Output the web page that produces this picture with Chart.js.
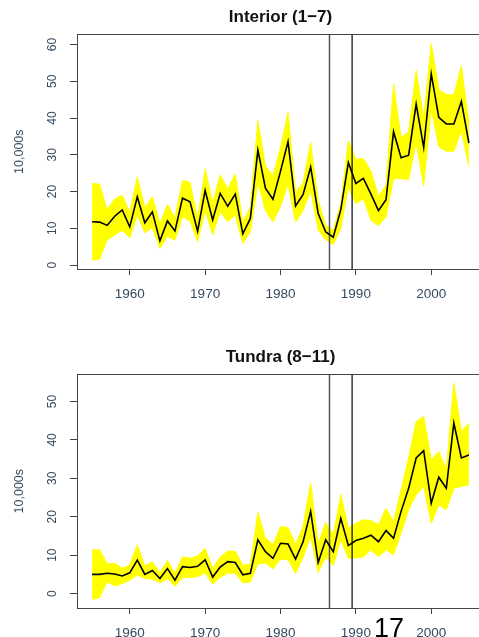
<!DOCTYPE html>
<html>
<head>
<meta charset="utf-8">
<script src="https://cdn.jsdelivr.net/npm/chart.js@4.4.1/dist/chart.umd.min.js"></script>
<style>
  html, body { margin: 0; padding: 0; background: #fff; overflow: hidden; width: 479px; height: 637px; }
  .panel { position: absolute; left: 0; }
  #pageNo { position: absolute; left: 374px; top: 615px; font: 27px/27px "Liberation Sans", Arial, sans-serif; color: #000; }
</style>
</head>
<body>
<div class="panel" style="top:0"><canvas id="interior" width="490" height="320"></canvas></div>
<div class="panel" style="top:320px"><canvas id="tundra" width="490" height="340"></canvas></div>
<div id="pageNo">17</div>
<script>
const years = [1955, 1956, 1957, 1958, 1959, 1960, 1961, 1962, 1963, 1964,
  1965, 1966, 1967, 1968, 1969, 1970, 1971, 1972, 1973, 1974,
  1975, 1976, 1977, 1978, 1979, 1980, 1981, 1982, 1983, 1984,
  1985, 1986, 1987, 1988, 1989, 1990, 1991, 1992, 1993, 1994,
  1995, 1996, 1997, 1998, 1999, 2000, 2001, 2002, 2003, 2004, 2005];

// Interior (1-7)
const interiorMean = [11.8, 11.7, 10.8, 13.3, 15.0, 10.4, 18.6, 11.5, 14.5, 6.6,
  12.0, 9.3, 18.2, 17.2, 9.2, 20.3, 12.3, 19.5, 16.0, 19.3,
  8.5, 12.7, 31.3, 20.9, 17.9, 25.5, 33.6, 16.1, 19.2, 26.7,
  14.0, 9.0, 7.6, 15.1, 27.9, 22.2, 23.6, 19.3, 14.8, 17.8,
  36.3, 29.2, 29.9, 43.8, 32.0, 52.0, 40.2, 38.4, 38.4, 44.5, 33.2];
const interiorUpper = [22.2, 22.0, 15.0, 18.0, 19.0, 14.3, 24.0, 15.6, 18.6, 11.2,
  16.5, 12.9, 23.0, 22.5, 12.7, 26.2, 17.0, 24.5, 20.8, 24.7,
  11.7, 15.8, 39.3, 27.0, 24.3, 32.0, 41.6, 19.8, 22.5, 33.4,
  17.6, 10.8, 9.5, 16.7, 33.8, 28.8, 29.0, 25.6, 18.8, 21.8,
  49.2, 34.7, 36.3, 53.0, 40.0, 60.4, 47.8, 46.4, 46.3, 54.2, 38.5];
const interiorLower = [1.3, 1.6, 6.8, 8.2, 9.5, 7.4, 13.6, 8.8, 10.2, 4.5,
  7.8, 6.8, 13.2, 12.0, 6.4, 14.8, 8.3, 14.5, 11.8, 13.6,
  5.9, 9.0, 22.5, 14.9, 11.7, 16.0, 22.1, 11.7, 14.9, 20.3,
  9.5, 6.9, 5.6, 9.9, 21.2, 16.7, 18.0, 12.2, 10.8, 13.1,
  23.6, 23.5, 23.3, 33.3, 21.5, 42.5, 32.2, 31.0, 31.0, 36.5, 26.9];

// Tundra (8-11)
const tundraMean = [5.0, 5.0, 5.3, 5.1, 4.6, 5.4, 8.7, 5.0, 6.0, 3.9,
  6.5, 3.5, 7.0, 6.8, 7.1, 8.8, 4.3, 6.9, 8.3, 8.1,
  4.9, 5.3, 14.0, 10.9, 9.2, 13.1, 12.9, 9.0, 13.5, 21.4,
  8.1, 14.0, 10.9, 19.6, 12.5, 13.8, 14.4, 15.2, 13.5, 16.4,
  14.4, 21.4, 27.4, 35.3, 37.2, 23.5, 30.3, 27.4, 44.4, 35.3, 36.1];
const tundraUpper = [11.4, 11.4, 7.7, 7.9, 6.6, 7.4, 12.7, 7.2, 8.3, 5.4,
  8.6, 5.3, 9.6, 9.2, 9.8, 11.8, 6.6, 9.5, 11.1, 11.0,
  7.4, 7.6, 21.1, 14.5, 12.8, 17.4, 17.2, 12.8, 17.5, 28.8,
  13.0, 18.5, 15.3, 25.8, 17.0, 18.3, 19.2, 19.0, 17.9, 22.2,
  18.8, 27.0, 35.3, 44.8, 46.1, 34.8, 37.0, 32.2, 54.8, 42.2, 44.4];
const tundraLower = [-1.5, -1.1, 3.1, 2.0, 2.6, 3.5, 4.8, 3.9, 3.8, 2.8,
  3.9, 1.9, 4.2, 4.2, 4.4, 5.4, 2.4, 4.2, 5.3, 5.3,
  2.8, 3.0, 7.8, 7.9, 6.4, 9.0, 8.8, 5.2, 9.5, 14.8,
  5.5, 9.5, 7.3, 14.0, 9.2, 9.3, 9.6, 11.4, 9.6, 11.4,
  10.1, 15.7, 21.8, 25.7, 27.9, 18.3, 23.1, 21.8, 27.4, 27.9, 28.3];

// vertical reference lines
const marks = [1986.5, 1989.5];
const xTicks = [1960, 1970, 1980, 1990, 2000];

const FONT = '"Liberation Sans", Arial, Helvetica, sans-serif';
const AXIS_COLOR = '#444';
const LABEL_COLOR = '#34495e';
const BAND = '#ffff00';

function toPoints(vals) {
  return years.map((yr, i) => ({ x: yr, y: vals[i] }));
}

function makeChart(id, title, mean, upper, lower, titlePadTop, xAxisHeight) {
  const lo = Math.min(...lower), hi = Math.max(...upper);
  const yMin = lo - 0.04 * (hi - lo), yMax = hi + 0.04 * (hi - lo);
  const span = years[years.length - 1] - years[0];
  const xMin = years[0] - 0.04 * span;
  const xMax = years[years.length - 1] + 0.04 * span;

  return new Chart(document.getElementById(id), {
    type: 'line',
    data: {
      datasets: [
        { data: toPoints(mean), borderColor: '#000', borderWidth: 1.6, pointRadius: 0, tension: 0, fill: false },
        { data: [{ x: marks[0], y: yMin }, { x: marks[0], y: yMax }], borderColor: '#555', borderWidth: 1.5, pointRadius: 0, fill: false },
        { data: [{ x: marks[1], y: yMin }, { x: marks[1], y: yMax }], borderColor: '#000', borderWidth: 1.2, pointRadius: 0, fill: false },
        { data: toPoints(upper), borderColor: BAND, backgroundColor: BAND, borderWidth: 1, pointRadius: 0, tension: 0, fill: '+1' },
        { data: toPoints(lower), borderColor: BAND, borderWidth: 1, pointRadius: 0, tension: 0, fill: false }
      ]
    },
    options: {
      responsive: false,
      animation: false,
      layout: { padding: { left: 0, right: 6, top: 0, bottom: 0 } },
      plugins: {
        legend: { display: false },
        tooltip: { enabled: false },
        title: {
          display: true,
          text: title,
          fullSize: false,
          color: '#111',
          font: { family: FONT, size: 17, weight: 'bold' },
          padding: { top: titlePadTop, bottom: 7 }
        }
      },
      scales: {
        x: {
          type: 'linear',
          min: xMin,
          max: xMax,
          afterBuildTicks: (s) => { s.ticks = xTicks.map(v => ({ value: v })); },
          afterFit: (s) => { s.height = xAxisHeight; },
          grid: { display: true, drawOnChartArea: false, drawTicks: true, tickLength: 6, color: AXIS_COLOR },
          border: { display: true, color: AXIS_COLOR, width: 1 },
          ticks: {
            color: LABEL_COLOR,
            font: { family: FONT, size: 13.5 },
            padding: 11,
            maxRotation: 0,
            callback: (v) => String(v)
          }
        },
        xTop: {
          type: 'linear',
          position: 'top',
          afterFit: (s) => { s.height = 0; },
          grid: { display: false },
          border: { display: true, color: AXIS_COLOR, width: 1 },
          ticks: { display: false }
        },
        y: {
          type: 'linear',
          min: yMin,
          max: yMax,
          afterFit: (s) => { s.width = 77; },
          grid: { display: true, drawOnChartArea: false, drawTicks: true, tickLength: 7, color: AXIS_COLOR },
          border: { display: true, color: AXIS_COLOR, width: 1 },
          ticks: {
            stepSize: 10,
            includeBounds: false,
            minRotation: 90,
            maxRotation: 90,
            crossAlign: 'center',
            padding: 11,
            color: LABEL_COLOR,
            font: { family: FONT, size: 12 },
            callback: (v) => String(v)
          },
          title: {
            display: true,
            text: '10,000s',
            color: LABEL_COLOR,
            font: { family: FONT, size: 12.5 },
            padding: { top: 12.5, bottom: 0 }
          }
        }
      }
    }
  });
}

makeChart('interior', 'Interior (1\u22127)', interiorMean, interiorUpper, interiorLower, 7, 51);
makeChart('tundra', 'Tundra (8\u221211)', tundraMean, tundraUpper, tundraLower, 27, 52);
</script>
</body>
</html>
